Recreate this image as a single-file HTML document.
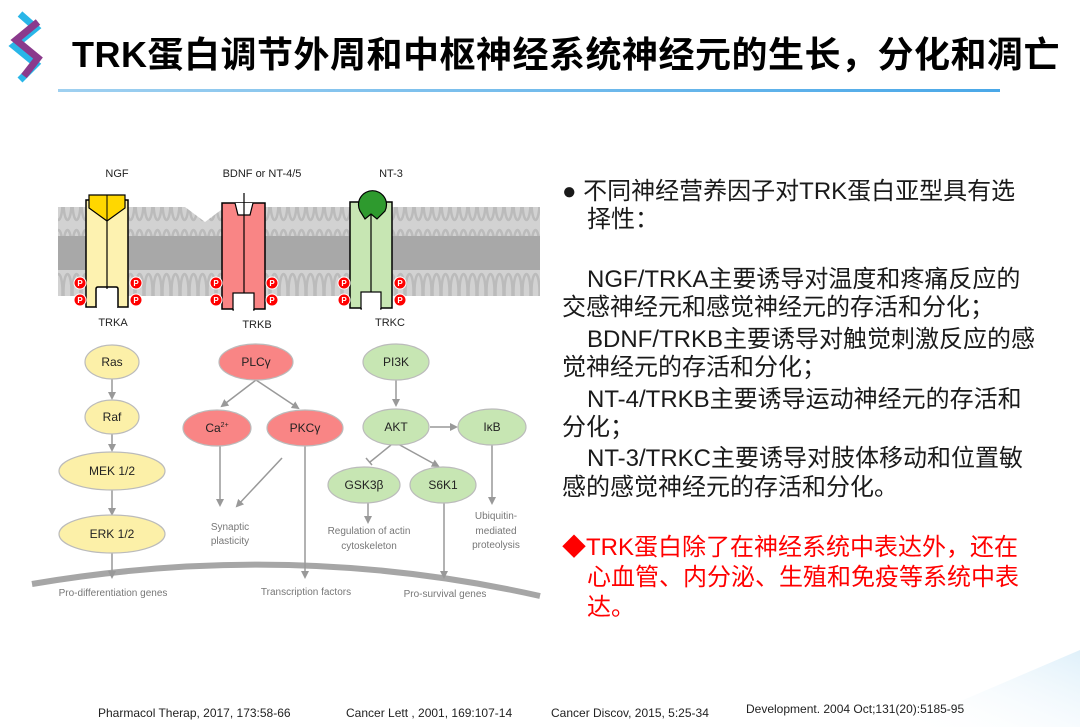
<!DOCTYPE html>
<html><head><meta charset="utf-8"><style>
body{margin:0;width:1080px;height:727px;background:#fff;position:relative;overflow:hidden;font-family:"Liberation Sans","Noto Sans CJK SC",sans-serif}
.t{position:absolute;white-space:nowrap}
.r{font-size:24px;color:#1a1a1a;line-height:28px}
.f{font-size:12px;color:#222;top:706px}
</style></head><body>
<svg width="1080" height="727" style="position:absolute;left:0;top:0" font-family="Liberation Sans, sans-serif">
<defs>
<linearGradient id="lg" x1="0" x2="1"><stop offset="0" stop-color="#9fd0f0"/><stop offset="1" stop-color="#4aa8e8"/></linearGradient>
<linearGradient id="bg" x1="0" y1="1" x2="1" y2="0"><stop offset="0" stop-color="#fff" stop-opacity="0"/><stop offset="1" stop-color="#dff0fa"/></linearGradient>
<marker id="a" markerWidth="8" markerHeight="8" refX="6" refY="4" orient="auto" markerUnits="userSpaceOnUse"><path d="M0,0 L8,4 L0,8z" fill="#999"/></marker>
<pattern id="mem" width="9" height="90" patternUnits="userSpaceOnUse"><ellipse cx="4.5" cy="22" rx="4" ry="18" fill="none" stroke="#bbb" stroke-width="2.5"/><ellipse cx="4.5" cy="68" rx="4" ry="18" fill="none" stroke="#bbb" stroke-width="2.5"/></pattern>
</defs>
<polygon points="900,727 1080,650 1080,727" fill="url(#bg)"/>
<!-- logo -->
<path d="M20,14 L36,28 L14,46 L36,64 L20,80" fill="none" stroke="#29b6e8" stroke-width="7"/>
<path d="M38,22 L16,40 L38,58 L24,76" fill="none" stroke="#8b3a8c" stroke-width="7"/>
<rect x="58" y="89" width="942" height="3" fill="url(#lg)"/>
<!-- membrane -->
<path d="M58,207 L185,207 L205,222 L225,207 L540,207 L540,296 L58,296z" fill="#d2d2d2"/>
<path d="M58,207 L185,207 L205,222 L225,207 L540,207 L540,296 L58,296z" fill="url(#mem)"/>
<rect x="58" y="236" width="482" height="34" fill="#a8a8a8"/>
<!-- TRKA -->
<rect x="86" y="200" width="42" height="107" fill="#fdf2b0" stroke="#000" stroke-width="1.5"/>
<path d="M96,307 L96,289 Q96,287 98,287 L116,287 Q118,287 118,289 L118,307" fill="#fff" stroke="#000" stroke-width="1.5"/>
<rect x="97" y="289" width="20" height="19" fill="#fff"/>
<line x1="107" y1="220" x2="107" y2="289" stroke="#000" stroke-width="1.2"/>
<path d="M89,195 L125,195 L125,208 L107,221 L89,208z" fill="#ffd700" stroke="#000" stroke-width="1.2"/>
<line x1="107" y1="195" x2="107" y2="221" stroke="#000"/>
<!-- TRKB -->
<rect x="222" y="203" width="43" height="106" fill="#f98585" stroke="#000" stroke-width="1.5"/>
<path d="M235,203 L238,215 L250,215 L253,203" fill="#fff" stroke="#000" stroke-width="1.2"/>
<rect x="233" y="293" width="21" height="17" fill="#fff" stroke="#000" stroke-width="1.2"/>
<rect x="234" y="303" width="19" height="8" fill="#fff"/>
<line x1="244" y1="193" x2="244" y2="293" stroke="#000" stroke-width="1.2"/>
<!-- TRKC -->
<rect x="350" y="202" width="42" height="106" fill="#c7e6b3" stroke="#000" stroke-width="1.5"/>
<rect x="361" y="292" width="20" height="17" fill="#fff" stroke="#000" stroke-width="1.2"/>
<rect x="362" y="302" width="18" height="8" fill="#fff"/>
<line x1="371" y1="215" x2="371" y2="292" stroke="#000" stroke-width="1.2"/>
<path d="M360,211 A14,14 0 1 1 385,211 L377,219 L371,214 L365,219z" fill="#2e9a2e" stroke="#000" stroke-width="1.2"/>
<!-- P circles -->
<g fill="#f00" stroke="#fff" stroke-width="1">
<circle cx="80" cy="283" r="6"/><circle cx="80" cy="300" r="6"/><circle cx="136" cy="283" r="6"/><circle cx="136" cy="300" r="6"/>
<circle cx="216" cy="283" r="6"/><circle cx="216" cy="300" r="6"/><circle cx="272" cy="283" r="6"/><circle cx="272" cy="300" r="6"/>
<circle cx="344" cy="283" r="6"/><circle cx="344" cy="300" r="6"/><circle cx="400" cy="283" r="6"/><circle cx="400" cy="300" r="6"/>
</g>
<g fill="#fff" font-size="8" font-weight="bold" text-anchor="middle">
<text x="80" y="286">P</text><text x="80" y="303">P</text><text x="136" y="286">P</text><text x="136" y="303">P</text>
<text x="216" y="286">P</text><text x="216" y="303">P</text><text x="272" y="286">P</text><text x="272" y="303">P</text>
<text x="344" y="286">P</text><text x="344" y="303">P</text><text x="400" y="286">P</text><text x="400" y="303">P</text>
</g>
<g font-size="11" fill="#222" text-anchor="middle">
<text x="117" y="177">NGF</text><text x="262" y="177">BDNF or NT-4/5</text><text x="391" y="177">NT-3</text>
<text x="113" y="326">TRKA</text><text x="257" y="328">TRKB</text><text x="390" y="326">TRKC</text>
</g>
<!-- arc -->
<path d="M32,584 Q290,540 540,596" fill="none" stroke="#a6a6a6" stroke-width="6"/>
<!-- arrows -->
<g stroke="#999" stroke-width="1.5" fill="none" marker-end="url(#a)">
<line x1="112" y1="379" x2="112" y2="398"/>
<line x1="112" y1="434" x2="112" y2="450"/>
<line x1="112" y1="490" x2="112" y2="514"/>
<line x1="112" y1="552" x2="112" y2="577"/>
<line x1="256" y1="380" x2="222" y2="406"/>
<line x1="256" y1="380" x2="298" y2="408"/>
<line x1="220" y1="446" x2="220" y2="505"/>
<line x1="282" y1="458" x2="237" y2="506"/>
<line x1="305" y1="446" x2="305" y2="577"/>
<line x1="396" y1="380" x2="396" y2="405"/>
<line x1="430" y1="427" x2="456" y2="427"/>
<line x1="398" y1="444" x2="438" y2="466"/>
<line x1="368" y1="503" x2="368" y2="522"/>
<line x1="492" y1="445" x2="492" y2="503"/>
<line x1="444" y1="503" x2="444" y2="577"/>
</g>
<line x1="391" y1="445" x2="370" y2="462" stroke="#999" stroke-width="1.5"/>
<line x1="366" y1="458" x2="372" y2="465" stroke="#999" stroke-width="1.5"/>
<!-- ovals -->
<g stroke="#bbb" stroke-width="1.2">
<ellipse cx="112" cy="362" rx="27" ry="17" fill="#fcf0a8"/>
<ellipse cx="112" cy="417" rx="27" ry="17" fill="#fcf0a8"/>
<ellipse cx="112" cy="471" rx="53" ry="19" fill="#fcf0a8"/>
<ellipse cx="112" cy="534" rx="53" ry="19" fill="#fcf0a8"/>
<ellipse cx="256" cy="362" rx="37" ry="18" fill="#f98585"/>
<ellipse cx="217" cy="428" rx="34" ry="18" fill="#f98585"/>
<ellipse cx="305" cy="428" rx="38" ry="18" fill="#f98585"/>
<ellipse cx="396" cy="362" rx="33" ry="18" fill="#c7e6b3"/>
<ellipse cx="396" cy="427" rx="33" ry="18" fill="#c7e6b3"/>
<ellipse cx="492" cy="427" rx="34" ry="18" fill="#c7e6b3"/>
<ellipse cx="364" cy="485" rx="36" ry="18" fill="#c7e6b3"/>
<ellipse cx="443" cy="485" rx="33" ry="18" fill="#c7e6b3"/>
</g>
<g font-size="12" fill="#222" text-anchor="middle">
<text x="112" y="366">Ras</text><text x="112" y="421">Raf</text><text x="112" y="475">MEK 1/2</text><text x="112" y="538">ERK 1/2</text>
<text x="256" y="366">PLCγ</text><text x="217" y="432">Ca<tspan font-size="7" dy="-5">2+</tspan></text><text x="305" y="432">PKCγ</text>
<text x="396" y="366">PI3K</text><text x="396" y="431">AKT</text><text x="492" y="431">IκB</text><text x="364" y="489">GSK3β</text><text x="443" y="489">S6K1</text>
</g>
<g font-size="10" fill="#777" text-anchor="middle">
<text x="230" y="530">Synaptic</text><text x="230" y="544">plasticity</text>
<text x="369" y="534">Regulation of actin</text><text x="369" y="549">cytoskeleton</text>
<text x="496" y="519">Ubiquitin-</text><text x="496" y="534">mediated</text><text x="496" y="548">proteolysis</text>
<text x="113" y="596">Pro-differentiation genes</text><text x="306" y="595">Transcription factors</text><text x="445" y="597">Pro-survival genes</text>
</g>
</svg>
<div class="t" style="left:72px;top:26px;font-size:36px;font-weight:bold;color:#000;letter-spacing:0.5px">TRK蛋白调节外周和中枢神经系统神经元的生长，分化和凋亡</div>
<div class="t r" style="left:562px;top:178px">●&nbsp;不同神经营养因子对TRK蛋白亚型具有选</div>
<div class="t r" style="left:587px;top:206px">择性：</div>
<div class="t r" style="left:587px;top:266px">NGF/TRKA主要诱导对温度和疼痛反应的</div>
<div class="t r" style="left:562px;top:294px">交感神经元和感觉神经元的存活和分化；</div>
<div class="t r" style="left:587px;top:326px">BDNF/TRKB主要诱导对触觉刺激反应的感</div>
<div class="t r" style="left:562px;top:354px">觉神经元的存活和分化；</div>
<div class="t r" style="left:587px;top:386px">NT-4/TRKB主要诱导运动神经元的存活和</div>
<div class="t r" style="left:562px;top:414px">分化；</div>
<div class="t r" style="left:587px;top:445px">NT-3/TRKC主要诱导对肢体移动和位置敏</div>
<div class="t r" style="left:562px;top:474px">感的感觉神经元的存活和分化。</div>
<div class="t r" style="left:562px;top:534px;color:#f00">◆TRK蛋白除了在神经系统中表达外，还在</div>
<div class="t r" style="left:587px;top:564px;color:#f00">心血管、内分泌、生殖和免疫等系统中表</div>
<div class="t r" style="left:587px;top:594px;color:#f00">达。</div>
<div class="t f" style="left:98px">Pharmacol Therap, 2017, 173:58-66</div>
<div class="t f" style="left:346px">Cancer Lett , 2001, 169:107-14</div>
<div class="t f" style="left:551px">Cancer Discov, 2015, 5:25-34</div>
<div class="t f" style="left:746px;top:702px">Development. 2004 Oct;131(20):5185-95</div>
</body></html>
